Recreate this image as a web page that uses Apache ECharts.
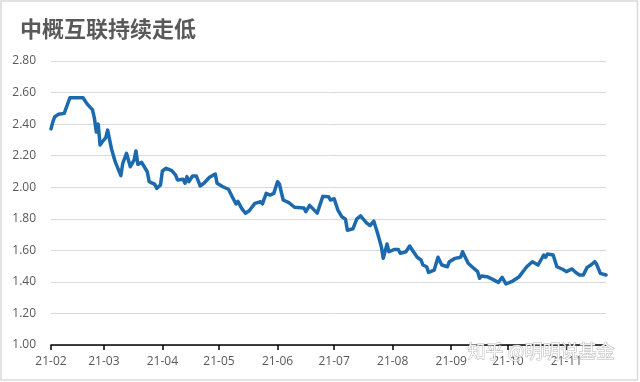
<!DOCTYPE html>
<html>
<head>
<meta charset="utf-8">
<script src="https://cdn.jsdelivr.net/npm/echarts@6/dist/echarts.min.js"></script>
<style>
html,body{margin:0;padding:0;background:#fff;}
#c{width:640px;height:382px;}
</style>
</head>
<body>
<div id="c"></div>
<script>
var titleText = '中概互联持续走低';
var watermarkText = '知乎 @明明说基金';
var dates = [
'2021-02-01','2021-02-02','2021-02-03','2021-02-05','2021-02-08','2021-02-09','2021-02-11','2021-02-18','2021-02-20','2021-02-23',
'2021-02-24','2021-02-25','2021-02-26','2021-02-27','2021-02-28','2021-03-02','2021-03-03','2021-03-05','2021-03-07','2021-03-10',
'2021-03-11','2021-03-13','2021-03-14','2021-03-15','2021-03-17','2021-03-18','2021-03-19','2021-03-21','2021-03-24','2021-03-25',
'2021-03-26','2021-03-28','2021-03-29','2021-03-31','2021-04-01','2021-04-03','2021-04-06','2021-04-08','2021-04-09','2021-04-12',
'2021-04-13','2021-04-14','2021-04-15','2021-04-17','2021-04-19','2021-04-21','2021-04-23','2021-04-26','2021-04-29','2021-04-30',
'2021-05-03','2021-05-06','2021-05-08','2021-05-10','2021-05-11','2021-05-13','2021-05-15','2021-05-17','2021-05-20','2021-05-23',
'2021-05-24','2021-05-26','2021-05-28','2021-05-30','2021-06-01','2021-06-02','2021-06-04','2021-06-07','2021-06-10','2021-06-15',
'2021-06-16','2021-06-18','2021-06-22','2021-06-25','2021-06-28','2021-06-29','2021-07-01','2021-07-03','2021-07-05','2021-07-07',
'2021-07-08','2021-07-11','2021-07-13','2021-07-15','2021-07-18','2021-07-20','2021-07-22','2021-07-24','2021-07-26','2021-07-27',
'2021-07-29','2021-07-30','2021-08-02','2021-08-04','2021-08-05','2021-08-08','2021-08-10','2021-08-12','2021-08-14','2021-08-16',
'2021-08-17','2021-08-19','2021-08-20','2021-08-23','2021-08-25','2021-08-27','2021-08-30','2021-08-31','2021-09-03','2021-09-04',
'2021-09-06','2021-09-07','2021-09-10','2021-09-12','2021-09-15','2021-09-16','2021-09-17','2021-09-20','2021-09-23','2021-09-26',
'2021-09-28','2021-09-30','2021-10-03','2021-10-07','2021-10-11','2021-10-12','2021-10-14','2021-10-17','2021-10-20','2021-10-21',
'2021-10-22','2021-10-25','2021-10-27','2021-10-30','2021-11-01','2021-11-04','2021-11-06','2021-11-08','2021-11-10','2021-11-12',
'2021-11-14','2021-11-16','2021-11-17','2021-11-19','2021-11-22'
];
var values = [
2.37,2.415,2.447,2.462,2.468,2.457,2.567,2.567,2.53,2.49,
2.437,2.35,2.40,2.267,2.285,2.314,2.362,2.246,2.162,2.073,
2.151,2.215,2.172,2.13,2.172,2.23,2.145,2.158,2.098,2.035,
2.046,2.018,1.993,2.014,2.103,2.12,2.105,2.077,2.046,2.05,
2.025,2.067,2.035,2.071,2.071,2.008,2.025,2.063,2.084,2.025,
2.003,1.987,1.94,1.894,1.91,1.866,1.835,1.851,1.898,1.908,
1.894,1.961,1.95,1.961,2.035,2.02,1.919,1.902,1.873,1.868,
1.845,1.885,1.836,1.942,1.94,1.919,1.927,1.855,1.814,1.797,
1.727,1.737,1.80,1.818,1.776,1.757,1.785,1.708,1.623,1.549,
1.64,1.591,1.606,1.606,1.581,1.591,1.627,1.591,1.556,1.539,
1.507,1.496,1.46,1.475,1.556,1.507,1.496,1.528,1.549,1.539,
1.556,1.591,1.518,1.496,1.465,1.423,1.437,1.433,1.416,1.397,
1.429,1.387,1.401,1.433,1.496,1.486,1.528,1.507,1.570,1.556,
1.577,1.570,1.496,1.48,1.465,1.482,1.46,1.444,1.444,1.492,
1.507,1.528,1.513,1.454,1.444
];
var xMin = '2021-02-01';
var xMax = '2021-11-22';
var yTicks = [1.0, 1.2, 1.4, 1.6, 1.8, 2.0, 2.2, 2.4, 2.6, 2.8];

var seriesData = dates.map(function (d, i) { return [d, values[i]]; });
var DAY = 86400000;
var chart = echarts.init(document.getElementById('c'), null, {renderer: 'canvas'});
chart.setOption({
  backgroundColor: '#ffffff',
  animation: false,
  title: {
    text: titleText,
    left: 15,
    top: 13,
    textStyle: {
      fontFamily: 'Noto Sans CJK SC',
      fontWeight: 'bold',
      fontSize: 22,
      color: '#595959'
    }
  },
  grid: { left: 51, right: 34, top: 61, bottom: 37, containLabel: false },
  xAxis: {
    type: 'time',
    min: xMin,
    max: xMax,
    minInterval: 28 * DAY,
    maxInterval: 31 * DAY,
    axisLine: { show: true, lineStyle: { color: '#000', width: 1.5 } },
    axisTick: { show: true, length: 5, lineStyle: { color: '#000', width: 1.5 } },
    axisLabel: {
      formatter: '{yy}-{MM}',
      color: '#595959',
      fontSize: 12,
      fontFamily: 'Open Sans',
      margin: 11,
      showMinLabel: true,
      showMaxLabel: false,
      hideOverlap: false
    },
    splitLine: { show: false }
  },
  yAxis: {
    type: 'value',
    min: yTicks[0],
    max: yTicks[yTicks.length - 1],
    interval: 0.2,
    axisLine: { show: false },
    axisTick: { show: false },
    axisLabel: {
      formatter: function (v) { return v.toFixed(2); },
      color: '#595959',
      fontSize: 12,
      fontFamily: 'Open Sans',
      margin: 15
    },
    splitLine: { lineStyle: { color: '#d9d9d9', width: 1 } }
  },
  series: [{
    type: 'line',
    data: seriesData,
    showSymbol: false,
    symbol: 'none',
    lineStyle: { color: '#1c6aad', width: 3.5, join: 'round', cap: 'round' },
    z: 3
  }],
  graphic: [
    {
      type: 'rect',
      shape: { x: 1, y: 1, width: 636.5, height: 379 },
      style: { fill: 'none', stroke: '#d9d9d9', lineWidth: 1.5 },
      silent: true,
      z: 10
    },
    {
      type: 'text',
      left: 467,
      top: 342,
      style: {
        text: watermarkText,
        font: '18px "Noto Sans CJK SC"',
        fill: 'rgba(255,255,255,0.9)',
        stroke: 'rgba(140,140,140,0.6)',
        lineWidth: 1
      },
      silent: true,
      z: 20
    }
  ]
});
</script>
</body>
</html>
